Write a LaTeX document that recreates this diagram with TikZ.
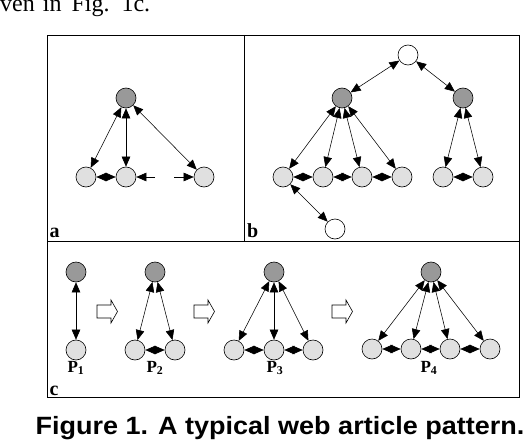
\documentclass[tikz,border=0pt]{standalone}
\usepackage{fontspec}
\setmainfont{Liberation Serif}
\newfontfamily\capfont{Liberation Sans}
\usetikzlibrary{arrows.meta}
\definecolor{darkn}{gray}{0.6}
\definecolor{lightn}{gray}{0.88}
\tikzset{
  nd/.style={circle,draw,line width=0.6pt,minimum size=20pt,inner sep=0pt},
  dk/.style={nd,fill=darkn},
  lt/.style={nd,fill=lightn},
  wt/.style={nd,fill=white},
  ed/.style={line width=0.55pt,{Triangle[length=10pt,width=8.5pt]}-{Triangle[length=10pt,width=8.5pt]}},
  ea/.style={line width=0.55pt,-{Triangle[length=10pt,width=8.5pt]}},
  frame/.style={line width=0.9pt},
  blk/.style={draw,line width=0.6pt,fill=white},
  plab/.style={font=\fontsize{17}{19}\selectfont\bfseries,anchor=base,inner sep=0pt},
  panlab/.style={font=\fontsize{20}{22}\selectfont\bfseries,anchor=base west,inner sep=0pt}
}
\begin{document}
\begin{tikzpicture}[x=1pt,y=-1pt]
\useasboundingbox (0,0) rectangle (532,444);
% top cropped text
\node[anchor=base west,inner sep=0pt,font=\fontsize{24}{26}\selectfont] (toptext) at (0,11.5) {ven\hspace{8pt}in\hspace{10pt}Fig.\hspace{12pt}1c.};
% frames
\draw[frame] (47,35) rectangle (519,397);
\draw[frame] (244,35) -- (244,241);
\draw[frame] (47,241) -- (519,241);
% panel a
\node[dk] (a0) at (126,98) {};
\node[lt] (a1) at (86,177) {};
\node[lt] (a2) at (126,177) {};
\node[lt] (a3) at (204,177) {};
\coordinate (ag1) at (155,177);
\coordinate (ag2) at (174,177);
\draw[ed] (a0) -- (a1);
\draw[ed] (a0) -- (a2);
\draw[ed] (a0) -- (a3);
\draw[ed] (a1) -- (a2);
\draw[ea] (ag1) -- (a2);
\draw[ea] (ag2) -- (a3);
\node[panlab] (la) at (49.5,237.5) {a};
% panel b
\node[wt] (b0) at (408,55) {};
\node[dk] (bL) at (342,98) {};
\node[dk] (bR) at (463,98) {};
\node[lt] (b1) at (283,177) {};
\node[lt] (b2) at (323,177) {};
\node[lt] (b3) at (362,177) {};
\node[lt] (b4) at (402,177) {};
\node[lt] (b5) at (443,177) {};
\node[lt] (b6) at (483,177) {};
\node[wt] (b7) at (335,229) {};
\draw[ed] (b0) -- (bL);
\draw[ed] (b0) -- (bR);
\foreach \t in {b1,b2,b3,b4} \draw[ed] (bL) -- (\t);
\foreach \t in {b5,b6} \draw[ed] (bR) -- (\t);
\draw[ed] (b1) -- (b2);
\draw[ed] (b2) -- (b3);
\draw[ed] (b3) -- (b4);
\draw[ed] (b5) -- (b6);
\draw[ed] (b1) -- (b7);
\node[panlab] (lb) at (247,237.5) {b};
% panel c
% P1
\node[dk] (p10) at (76,272) {};
\node[lt] (p11) at (76,350) {};
\draw[ed] (p10) -- (p11);
\node[plab] (l1) at (76,372) {P\textsubscript{1}};
% P2
\node[dk] (p20) at (155,272) {};
\node[lt] (p21) at (135,350) {};
\node[lt] (p22) at (175,350) {};
\draw[ed] (p20) -- (p21);
\draw[ed] (p20) -- (p22);
\draw[ed] (p21) -- (p22);
\node[plab] (l2) at (155,372) {P\textsubscript{2}};
% P3
\node[dk] (p30) at (274,272) {};
\node[lt] (p31) at (234,350) {};
\node[lt] (p32) at (274,350) {};
\node[lt] (p33) at (313,350) {};
\draw[ed] (p30) -- (p31);
\draw[ed] (p30) -- (p32);
\draw[ed] (p30) -- (p33);
\draw[ed] (p31) -- (p32);
\draw[ed] (p32) -- (p33);
\node[plab] (l3) at (275,372) {P\textsubscript{3}};
% P4
\node[dk] (p40) at (431,272) {};
\node[lt] (p41) at (372,349) {};
\node[lt] (p42) at (411,349) {};
\node[lt] (p43) at (450,349) {};
\node[lt] (p44) at (490,349) {};
\foreach \t in {p41,p42,p43,p44} \draw[ed] (p40) -- (\t);
\draw[ed] (p41) -- (p42);
\draw[ed] (p42) -- (p43);
\draw[ed] (p43) -- (p44);
\node[plab] (l4) at (429,372) {P\textsubscript{4}};
% block arrows
\foreach \x in {97,194,332} {
  \draw[blk] (\x,305) -- ++(14,0) -- ++(0,-5) -- ++(6.5,11.5) -- ++(-6.5,11.5) -- ++(0,-5) -- ++(-14,0) -- cycle;
}
\node[panlab] (lc) at (49.5,395) {c};
% caption
\node[anchor=base,inner sep=0pt,font=\capfont\bfseries\fontsize{25}{28}\selectfont,xscale=1.08] (cap) at (280,434) {Figure 1. A typical web article pattern.};
\end{tikzpicture}
\end{document}
